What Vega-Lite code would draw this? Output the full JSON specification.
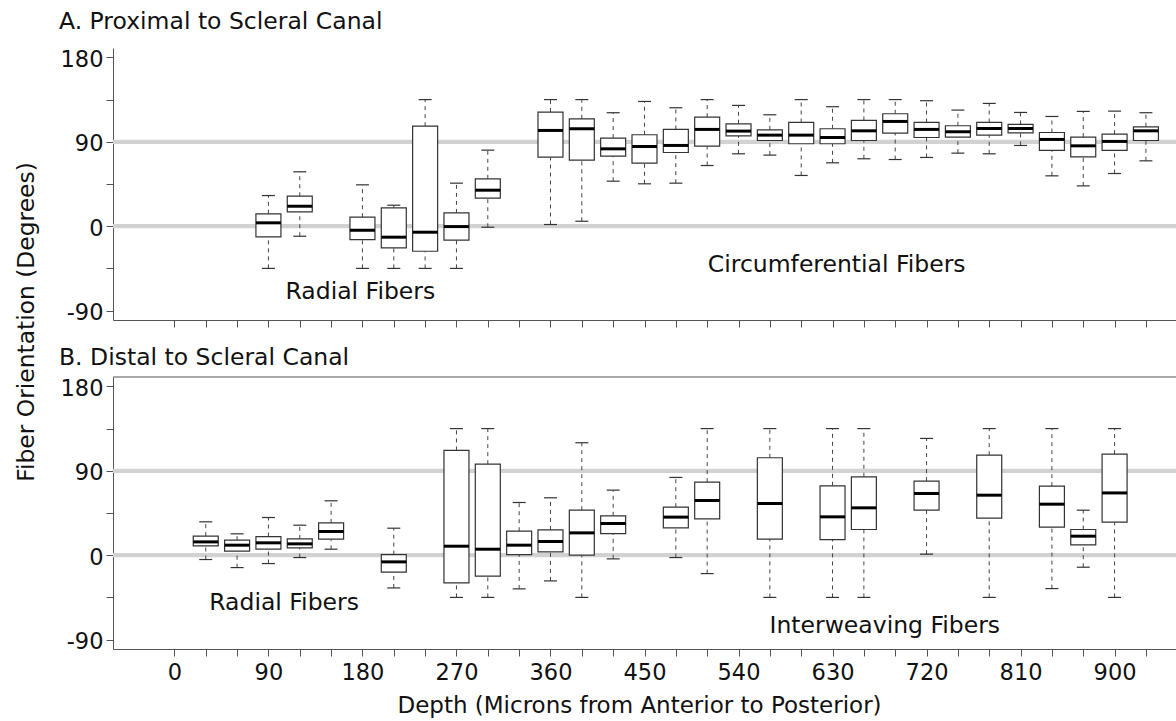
{
  "$schema": "https://vega.github.io/schema/vega-lite/v6.json",
  "autosize": {"type": "pad"},
  "padding": {"left": 13, "top": 10, "right": 0, "bottom": 0},
  "background": "white",
  "spacing": 57,
  "bounds": "flush",
  "config": {
    "font": "DejaVu Sans",
    "view": {"stroke": null},
    "tick": {"opacity": 1},
    "axis": {"grid": false, "domainColor": "#555", "tickColor": "#555", "domainWidth": 1, "tickWidth": 1,
      "labelFont": "DejaVu Sans", "labelFontSize": 22.5, "labelColor": "#111", "labelOverlap": false, "labelFlush": false, "labelBound": false,
      "titleFont": "DejaVu Sans", "titleFontSize": 23, "titleFontWeight": "normal", "titleColor": "#111",
      "tickSize": 7},
    "axisX": {"labelPadding": 5, "tickCount": 60},
    "axisY": {"labelPadding": 3, "labelOffset": 2, "tickCount": 20},
    "title": {"font": "DejaVu Sans", "fontSize": 23.5, "fontWeight": "normal", "color": "#111", "anchor": "start", "frame": "group", "baseline": "alphabetic"}
  },
  "datasets": {
    "refs": [{"v": 0}, {"v": 90}],
    "border": [{"v": 190}],
    "boxA": [
      {"depth": 90, "lo": -45, "q1": -11.4, "med": 3.6, "q3": 13.2, "hi": 32.7},
      {"depth": 120, "lo": -10.7, "q1": 15.3, "med": 21.3, "q3": 32, "hi": 58},
      {"depth": 180, "lo": -45, "q1": -14.2, "med": -4.3, "q3": 9.6, "hi": 44.1},
      {"depth": 210, "lo": -45, "q1": -23.1, "med": -11.7, "q3": 19.6, "hi": 22.4},
      {"depth": 240, "lo": -45, "q1": -26.7, "med": -6.4, "q3": 106.7, "hi": 135},
      {"depth": 270, "lo": -45, "q1": -14.9, "med": -0.4, "q3": 14.2, "hi": 45.9},
      {"depth": 300, "lo": -1.1, "q1": 29.9, "med": 38.4, "q3": 50.5, "hi": 81.1},
      {"depth": 360, "lo": 1.8, "q1": 73.6, "med": 102.1, "q3": 121.7, "hi": 135},
      {"depth": 390, "lo": 5.3, "q1": 70.4, "med": 103.9, "q3": 114.5, "hi": 135},
      {"depth": 420, "lo": 48, "q1": 74.7, "med": 82.5, "q3": 93.9, "hi": 121},
      {"depth": 450, "lo": 45.2, "q1": 67.2, "med": 85, "q3": 97.5, "hi": 133},
      {"depth": 480, "lo": 45.9, "q1": 78.6, "med": 86.1, "q3": 103.2, "hi": 126.3},
      {"depth": 510, "lo": 64.7, "q1": 85.4, "med": 103.2, "q3": 116.3, "hi": 135},
      {"depth": 540, "lo": 77.2, "q1": 96.4, "med": 101.4, "q3": 109.2, "hi": 128.8},
      {"depth": 570, "lo": 75.8, "q1": 91.4, "med": 97.1, "q3": 102.8, "hi": 118.8},
      {"depth": 600, "lo": 54.1, "q1": 87.9, "med": 97.1, "q3": 110.6, "hi": 135},
      {"depth": 630, "lo": 67.6, "q1": 87.9, "med": 94.6, "q3": 103.9, "hi": 127.4},
      {"depth": 660, "lo": 71.9, "q1": 91.4, "med": 101.7, "q3": 112.8, "hi": 135},
      {"depth": 690, "lo": 71.1, "q1": 99.3, "med": 111.7, "q3": 119.9, "hi": 135},
      {"depth": 720, "lo": 73.3, "q1": 94.6, "med": 103.2, "q3": 110.6, "hi": 133.8},
      {"depth": 750, "lo": 77.9, "q1": 95, "med": 100.7, "q3": 107.1, "hi": 123.8},
      {"depth": 780, "lo": 77.2, "q1": 97.1, "med": 104.2, "q3": 110.6, "hi": 130.9},
      {"depth": 810, "lo": 86.1, "q1": 99.6, "med": 104.2, "q3": 108.5, "hi": 121.3},
      {"depth": 840, "lo": 53.7, "q1": 80.8, "med": 92.5, "q3": 99.9, "hi": 117},
      {"depth": 870, "lo": 43, "q1": 74, "med": 85.7, "q3": 95, "hi": 122.4},
      {"depth": 900, "lo": 56.2, "q1": 80.8, "med": 90.4, "q3": 98.2, "hi": 122.7},
      {"depth": 930, "lo": 69.7, "q1": 91.4, "med": 101.7, "q3": 106, "hi": 121}
    ],
    "boxB": [
      {"depth": 30, "lo": -4.6, "q1": 10, "med": 14.2, "q3": 20.3, "hi": 35.6},
      {"depth": 60, "lo": -13.2, "q1": 4.3, "med": 10.7, "q3": 16, "hi": 22.8},
      {"depth": 90, "lo": -8.9, "q1": 6.4, "med": 13.2, "q3": 19.9, "hi": 40.2},
      {"depth": 120, "lo": -2.5, "q1": 7.8, "med": 12.1, "q3": 17.4, "hi": 32},
      {"depth": 150, "lo": 6.4, "q1": 17.1, "med": 25.3, "q3": 34.5, "hi": 58},
      {"depth": 210, "lo": -34.9, "q1": -18.1, "med": -7.1, "q3": 0.7, "hi": 28.8},
      {"depth": 270, "lo": -45, "q1": -29.5, "med": 9.6, "q3": 111.7, "hi": 135},
      {"depth": 300, "lo": -45, "q1": -22.4, "med": 6.4, "q3": 97.1, "hi": 135},
      {"depth": 330, "lo": -35.9, "q1": 0.7, "med": 10.7, "q3": 25.6, "hi": 56.2},
      {"depth": 360, "lo": -27.4, "q1": 3.6, "med": 14.6, "q3": 27, "hi": 61.2},
      {"depth": 390, "lo": -45, "q1": 0, "med": 23.8, "q3": 48, "hi": 119.9},
      {"depth": 420, "lo": -3.9, "q1": 23.1, "med": 33.8, "q3": 42, "hi": 69.4},
      {"depth": 480, "lo": -2.5, "q1": 29.2, "med": 40.6, "q3": 51.2, "hi": 82.9},
      {"depth": 510, "lo": -19.6, "q1": 38.8, "med": 58.3, "q3": 77.9, "hi": 135},
      {"depth": 570, "lo": -45, "q1": 17.1, "med": 55.1, "q3": 103.9, "hi": 135},
      {"depth": 630, "lo": -45, "q1": 16.7, "med": 40.9, "q3": 74, "hi": 135},
      {"depth": 660, "lo": -45, "q1": 27.4, "med": 50.5, "q3": 83.6, "hi": 135},
      {"depth": 720, "lo": 1.1, "q1": 48, "med": 65.8, "q3": 79, "hi": 124.5},
      {"depth": 780, "lo": -45, "q1": 39.5, "med": 64, "q3": 106.7, "hi": 135},
      {"depth": 840, "lo": -35.6, "q1": 29.9, "med": 54.4, "q3": 73.6, "hi": 135},
      {"depth": 870, "lo": -12.8, "q1": 11, "med": 20.3, "q3": 27.4, "hi": 48},
      {"depth": 900, "lo": -45, "q1": 35.2, "med": 66.4, "q3": 107.8, "hi": 135}
    ],
    "notesA": [
      {"x": 178, "y": -78, "label": "Radial Fibers"},
      {"x": 634, "y": -49.3, "label": "Circumferential Fibers"}
    ],
    "notesB": [
      {"x": 105, "y": -58.5, "label": "Radial Fibers"},
      {"x": 680, "y": -83.3, "label": "Interweaving Fibers"}
    ]
  },
  "vconcat": [
    {
      "width": 1063,
      "height": 272,
      "title": {"text": "A. Proximal to Scleral Canal", "dx": -54, "offset": 14.4},
      "layer": [
        {"data": {"name": "refs"}, "mark": {"type": "rule", "color": "#d2d2d2", "strokeWidth": 4.3},
          "encoding": {"y": {"field": "v", "type": "quantitative", "scale": {"domain": [-100, 190], "nice": false, "zero": false},
            "axis": {"values": [-90, -45, 0, 45, 90, 135, 180], "tickCount": 20, "labelOverlap": false, "labelExpr": "datum.value % 90 === 0 ? '' + datum.value : ''", "title": "Fiber Orientation (Degrees)", "titleFontSize": 23.4, "titleX": -80, "titleY": 273.5, "titleAngle": -90, "titleAlign": "center", "titleBaseline": "alphabetic"}}}},
        {"data": {"name": "boxA"}, "mark": {"type": "rule", "color": "#444", "strokeDash": [4, 4], "strokeWidth": 1},
          "encoding": {
            "x": {"field": "depth", "type": "quantitative", "scale": {"domain": [-54, 954], "nice": false, "zero": false},
              "axis": {"values": [0,30,60,90,120,150,180,210,240,270,300,330,360,390,420,450,480,510,540,570,600,630,660,690,720,750,780,810,840,870,900,930], "tickCount": 60, "labels": false, "title": null}},
            "y": {"field": "q3", "type": "quantitative", "axis": {"values": [-90, -45, 0, 45, 90, 135, 180], "tickCount": 20, "labelOverlap": false, "labelExpr": "datum.value % 90 === 0 ? '' + datum.value : ''", "title": "Fiber Orientation (Degrees)", "titleFontSize": 23.4, "titleX": -80, "titleY": 273.5, "titleAngle": -90, "titleAlign": "center", "titleBaseline": "alphabetic"}},
            "y2": {"field": "hi"}}},
        {"data": {"name": "boxA"}, "mark": {"type": "rule", "color": "#444", "strokeDash": [4, 4], "strokeWidth": 1},
          "encoding": {
            "x": {"field": "depth", "type": "quantitative"},
            "y": {"field": "lo", "type": "quantitative"},
            "y2": {"field": "q1"}}},
        {"data": {"name": "boxA"}, "mark": {"type": "tick", "orient": "horizontal", "size": 13, "thickness": 1.2, "color": "#333", "opacity": 1},
          "encoding": {"x": {"field": "depth", "type": "quantitative"}, "y": {"field": "hi", "type": "quantitative"}}},
        {"data": {"name": "boxA"}, "mark": {"type": "tick", "orient": "horizontal", "size": 13, "thickness": 1.2, "color": "#333", "opacity": 1},
          "encoding": {"x": {"field": "depth", "type": "quantitative"}, "y": {"field": "lo", "type": "quantitative"}}},
        {"data": {"name": "boxA"}, "mark": {"type": "bar", "size": 25, "fill": "white", "stroke": "#333", "strokeWidth": 1.2},
          "encoding": {"x": {"field": "depth", "type": "quantitative"}, "y": {"field": "q1", "type": "quantitative"}, "y2": {"field": "q3"}}},
        {"data": {"name": "boxA"}, "mark": {"type": "tick", "orient": "horizontal", "size": 25, "thickness": 3, "color": "#000", "opacity": 1},
          "encoding": {"x": {"field": "depth", "type": "quantitative"}, "y": {"field": "med", "type": "quantitative"}}},
        {"data": {"name": "notesA"}, "mark": {"type": "text", "fontSize": 23.5, "align": "center", "baseline": "alphabetic", "color": "#111", "font": "DejaVu Sans"},
          "encoding": {"x": {"field": "x", "type": "quantitative"}, "y": {"field": "y", "type": "quantitative"}, "text": {"field": "label"}}}
      ]
    },
    {
      "width": 1063,
      "height": 272,
      "title": {"text": "B. Distal to Scleral Canal", "dx": -54, "offset": 6.7},
      "layer": [
        {"data": {"name": "refs"}, "mark": {"type": "rule", "color": "#d2d2d2", "strokeWidth": 4.3},
          "encoding": {"y": {"field": "v", "type": "quantitative", "scale": {"domain": [-100, 190], "nice": false, "zero": false},
            "axis": {"values": [-90, -45, 0, 45, 90, 135, 180], "tickCount": 20, "labelOverlap": false, "labelExpr": "datum.value % 90 === 0 ? '' + datum.value : ''", "title": null}}}},
        {"data": {"name": "border"}, "mark": {"type": "rule", "color": "#555", "strokeWidth": 1},
          "encoding": {"y": {"field": "v", "type": "quantitative"}}},
        {"data": {"name": "boxB"}, "mark": {"type": "rule", "color": "#444", "strokeDash": [4, 4], "strokeWidth": 1},
          "encoding": {
            "x": {"field": "depth", "type": "quantitative", "scale": {"domain": [-54, 954], "nice": false, "zero": false},
              "axis": {"values": [0,30,60,90,120,150,180,210,240,270,300,330,360,390,420,450,480,510,540,570,600,630,660,690,720,750,780,810,840,870,900,930], "tickCount": 60, "labelOverlap": false, "labelExpr": "datum.value % 90 === 0 ? '' + datum.value : ''", "title": "Depth (Microns from Anterior to Posterior)", "titleX": 526, "titleY": 63.5, "titleAlign": "center", "titleBaseline": "alphabetic"}},
            "y": {"field": "q3", "type": "quantitative"},
            "y2": {"field": "hi"}}},
        {"data": {"name": "boxB"}, "mark": {"type": "rule", "color": "#444", "strokeDash": [4, 4], "strokeWidth": 1},
          "encoding": {
            "x": {"field": "depth", "type": "quantitative"},
            "y": {"field": "lo", "type": "quantitative"},
            "y2": {"field": "q1"}}},
        {"data": {"name": "boxB"}, "mark": {"type": "tick", "orient": "horizontal", "size": 13, "thickness": 1.2, "color": "#333", "opacity": 1},
          "encoding": {"x": {"field": "depth", "type": "quantitative"}, "y": {"field": "hi", "type": "quantitative"}}},
        {"data": {"name": "boxB"}, "mark": {"type": "tick", "orient": "horizontal", "size": 13, "thickness": 1.2, "color": "#333", "opacity": 1},
          "encoding": {"x": {"field": "depth", "type": "quantitative"}, "y": {"field": "lo", "type": "quantitative"}}},
        {"data": {"name": "boxB"}, "mark": {"type": "bar", "size": 25, "fill": "white", "stroke": "#333", "strokeWidth": 1.2},
          "encoding": {"x": {"field": "depth", "type": "quantitative"}, "y": {"field": "q1", "type": "quantitative"}, "y2": {"field": "q3"}}},
        {"data": {"name": "boxB"}, "mark": {"type": "tick", "orient": "horizontal", "size": 25, "thickness": 3, "color": "#000", "opacity": 1},
          "encoding": {"x": {"field": "depth", "type": "quantitative"}, "y": {"field": "med", "type": "quantitative"}}},
        {"data": {"name": "notesB"}, "mark": {"type": "text", "fontSize": 23.5, "align": "center", "baseline": "alphabetic", "color": "#111", "font": "DejaVu Sans"},
          "encoding": {"x": {"field": "x", "type": "quantitative"}, "y": {"field": "y", "type": "quantitative"}, "text": {"field": "label"}}}
      ]
    }
  ]
}
